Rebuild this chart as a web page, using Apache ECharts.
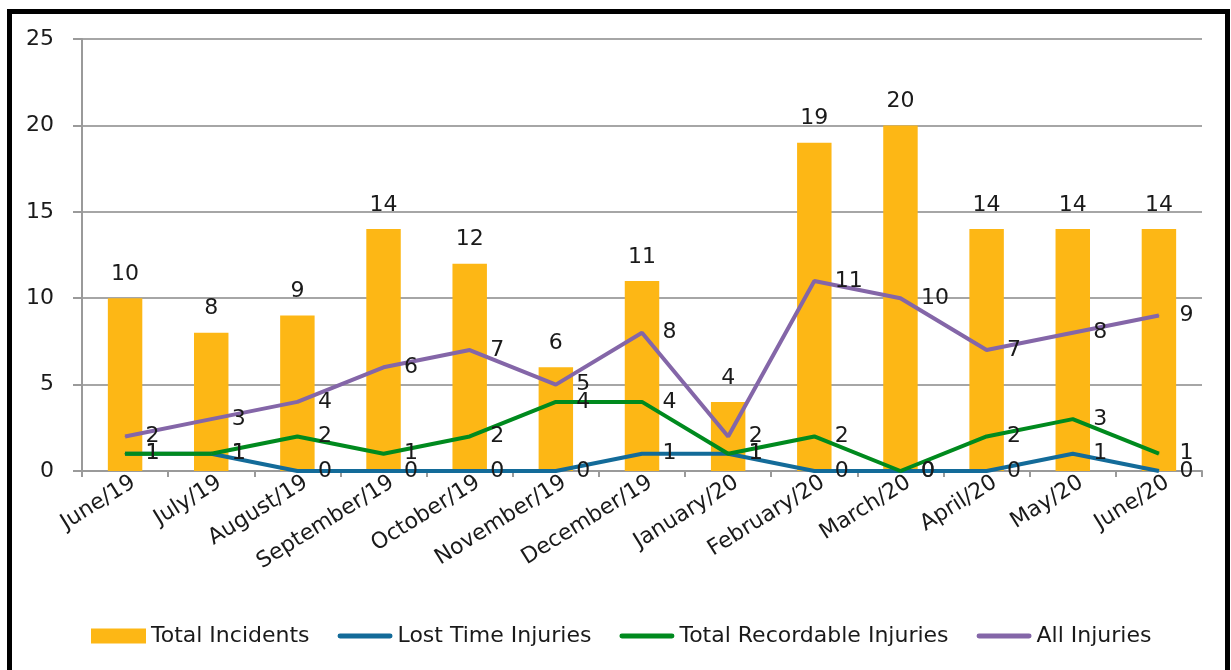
<!DOCTYPE html>
<html>
<head>
<meta charset="utf-8">
<script src="https://cdn.jsdelivr.net/npm/echarts@6/dist/echarts.min.js"></script>
<style>
html,body{margin:0;padding:0;background:#fff;}
#chart{width:1231px;height:670px;}
</style>
</head>
<body>
<div id="chart"></div>
<script>
const categories = ['June/19','July/19','August/19','September/19','October/19','November/19','December/19','January/20','February/20','March/20','April/20','May/20','June/20'];
const totalIncidents = [10, 8, 9, 14, 12, 6, 11, 4, 19, 20, 14, 14, 14];
const lostTimeInjuries = [1, 1, 0, 0, 0, 0, 1, 1, 0, 0, 0, 1, 0];
const totalRecordableInjuries = [1, 1, 2, 1, 2, 4, 4, 1, 2, 0, 2, 3, 1];
const allInjuries = [2, 3, 4, 6, 7, 5, 8, 2, 11, 10, 7, 8, 9];
const seriesNames = ['Total Incidents', 'Lost Time Injuries', 'Total Recordable Injuries', 'All Injuries'];

const FONT = 'DejaVu Sans';
const FS = 22;
const TXT = '#1a1a1a';
const lineIcon = 'path://M2,0 L53,0 A2.5,2.5 0 0 1 53,5 L2,5 A2.5,2.5 0 0 1 2,0 Z';

const chart = echarts.init(document.getElementById('chart'), null, {renderer: 'canvas'});

function lineSeries(name, data, color) {
  return {
    name: name,
    type: 'line',
    data: data,
    showSymbol: true,
    showAllSymbol: true,
    symbol: 'circle',
    symbolSize: 1,
    lineStyle: {color: color, width: 4},
    itemStyle: {color: color},
    z: 3,
    label: {
      show: true,
      position: 'right',
      distance: 20,
      color: TXT,
      fontFamily: FONT,
      fontSize: FS
    }
  };
}

chart.setOption({
  animation: false,
  backgroundColor: '#fff',
  graphic: [{
    type: 'rect',
    shape: {x: 9.5, y: 11.5, width: 1218, height: 700},
    style: {fill: 'none', stroke: '#000', lineWidth: 5},
    silent: true,
    z: 100
  }],
  grid: {left: 82, right: 29, top: 39, bottom: 199, containLabel: false},
  legend: {
    left: 86,
    top: 620,
    itemWidth: 55,
    itemHeight: 15,
    itemGap: 28,
    textStyle: {fontFamily: FONT, fontSize: FS, color: TXT},
    data: [
      {name: seriesNames[0], icon: 'rect'},
      {name: seriesNames[1], icon: lineIcon},
      {name: seriesNames[2], icon: lineIcon},
      {name: seriesNames[3], icon: lineIcon}
    ]
  },
  xAxis: {
    type: 'category',
    data: categories,
    boundaryGap: true,
    axisLine: {show: true, lineStyle: {color: '#9a9a9a', width: 2}},
    axisTick: {show: true, alignWithLabel: false, length: 6, lineStyle: {color: '#9a9a9a', width: 2}},
    axisLabel: {
      interval: 0,
      rotate: 32,
      margin: 15,
      padding: [0, -10, 0, 0],
      color: TXT,
      fontFamily: FONT,
      fontSize: FS
    }
  },
  yAxis: {
    type: 'value',
    min: 0,
    max: 25,
    interval: 5,
    axisLine: {show: true, lineStyle: {color: '#9a9a9a', width: 2}},
    axisTick: {show: true, length: 9, lineStyle: {color: '#9a9a9a', width: 2}},
    splitLine: {show: true, lineStyle: {color: '#a6a6a6', width: 2}},
    axisLabel: {margin: 28, color: TXT, fontFamily: FONT, fontSize: FS}
  },
  series: [
    {
      name: seriesNames[0],
      type: 'bar',
      data: totalIncidents,
      barWidth: '40%',
      itemStyle: {color: '#FDB715'},
      z: 2,
      label: {
        show: true,
        position: 'top',
        distance: 13,
        color: TXT,
        fontFamily: FONT,
        fontSize: FS
      }
    },
    lineSeries(seriesNames[1], lostTimeInjuries, '#136B99'),
    lineSeries(seriesNames[2], totalRecordableInjuries, '#008A1E'),
    lineSeries(seriesNames[3], allInjuries, '#8466A8')
  ]
});
</script>
</body>
</html>
